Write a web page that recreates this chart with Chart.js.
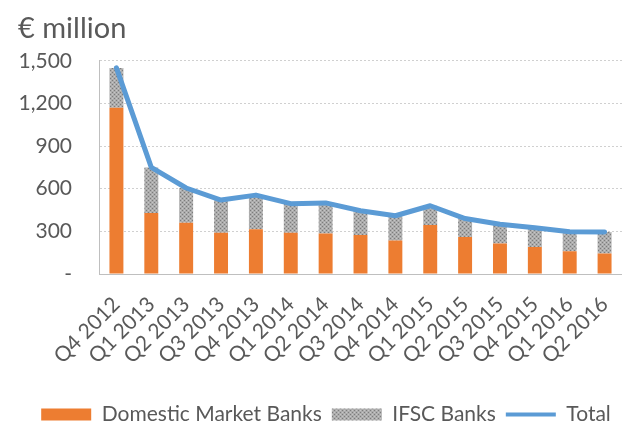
<!DOCTYPE html>
<html>
<head>
<meta charset="utf-8">
<script src="https://cdn.jsdelivr.net/npm/chart.js@4"></script>
<style>
  html, body { margin: 0; padding: 0; background: #fff; overflow: hidden; }
  #wrap { width: 622px; height: 423px; }
</style>
</head>
<body>
<div id="wrap"><canvas id="myChart"></canvas></div>
<script>
const quarters = ["Q4 2012", "Q1 2013", "Q2 2013", "Q3 2013", "Q4 2013", "Q1 2014", "Q2 2014", "Q3 2014",
  "Q4 2014", "Q1 2015", "Q2 2015", "Q3 2015", "Q4 2015", "Q1 2016", "Q2 2016"]
const domesticBanks = [1170, 430, 360, 290, 315, 290, 285, 275, 235, 345, 260, 215, 190, 160, 145]
const ifscBanks = [280, 320, 245, 230, 240, 205, 215, 170, 175, 135, 130, 135, 135, 137, 150]
const totalBanks = [1450, 750, 605, 520, 555, 495, 500, 445, 410, 480, 390, 350, 325, 297, 295]
const yTicks = [0, 300, 600, 900, 1200, 1500]

const textGrey = "#595959"
const fontName = "Lato"

// dotted grey fill like the excel texture
function dotPattern() {
  let c = document.createElement("canvas")
  c.width = 4
  c.height = 4
  let g = c.getContext("2d")
  g.fillStyle = "#acacac"
  g.fillRect(0, 0, 4, 4)
  g.fillStyle = "#7c7c7c"
  g.fillRect(0, 0, 1, 1)
  g.fillRect(2, 2, 1, 1)
  g.fillStyle = "#c6c6c6"
  g.fillRect(2, 0, 1, 1)
  g.fillRect(0, 2, 1, 1)
  return g.createPattern(c, "repeat")
}
const ifscFill = dotPattern()

let ctx = document.getElementById("myChart").getContext("2d")
new Chart(ctx, {
  type: "bar",
  data: {
    labels: quarters,
    datasets: [{
      label: "Domestic Market Banks",
      data: domesticBanks,
      backgroundColor: "#ed7d31",
      stack: "banks",
      order: 2,
      barPercentage: 0.4,
      categoryPercentage: 1
    }, {
      label: "IFSC Banks",
      data: ifscBanks,
      backgroundColor: ifscFill,
      stack: "banks",
      order: 2,
      barPercentage: 0.4,
      categoryPercentage: 1
    }, {
      type: "line",
      label: "Total",
      data: totalBanks,
      borderColor: "#5b9bd5",
      backgroundColor: "#5b9bd5",
      borderWidth: 5,
      pointRadius: 0,
      tension: 0,
      borderJoinStyle: "round",
      borderCapStyle: "round",
      stack: "line",
      order: 1
    }]
  },
  options: {
    responsive: true,
    maintainAspectRatio: false,
    animation: false,
    layout: { padding: { top: 7, left: 18, right: -12, bottom: -12 } },
    plugins: {
      title: {
        display: true,
        text: "€ million",
        align: "start",
        color: textGrey,
        font: { family: fontName, size: 29, weight: "normal" },
        padding: { top: 4, bottom: 15 }
      },
      legend: {
        position: "bottom",
        labels: {
          color: textGrey,
          font: { family: fontName, size: 21 },
          usePointStyle: true,
          pointStyleWidth: 50,
          boxHeight: 12,
          padding: 10,
          sort: (a, b) => a.datasetIndex - b.datasetIndex,
          generateLabels: function (chart) {
            let items = Chart.defaults.plugins.legend.labels.generateLabels(chart)
            items.forEach(function (it) {
              if (it.text === "Total") {
                it.pointStyle = "line"
                it.lineWidth = 4
              } else {
                it.pointStyle = "rect"
                it.lineWidth = 0
                it.strokeStyle = "rgba(0,0,0,0)"
              }
            })
            return items
          }
        }
      },
      tooltip: { enabled: false }
    },
    scales: {
      x: {
        stacked: true,
        afterFit: function (scale) {
          scale.height = 120
          scale.paddingRight = -12
        },
        grid: { display: false },
        border: { display: true, color: "#bfbfbf" },
        ticks: {
          color: textGrey,
          font: { family: fontName, size: 21 },
          autoSkip: false,
          minRotation: 45,
          maxRotation: 45,
          padding: 10
        }
      },
      y: {
        stacked: true,
        min: 0,
        max: 1500,
        afterBuildTicks: function (scale) {
          scale.ticks = yTicks.map(v => ({ value: v }))
        },
        afterFit: function (scale) {
          scale.width = 81
          scale.paddingRight = -12
        },
        grid: { color: "#d0d0d0", drawTicks: false },
        border: { display: true, color: "#bfbfbf", dash: [2, 2] },
        ticks: {
          color: textGrey,
          font: { family: fontName, size: 21 },
          padding: 27,
          callback: function (v) {
            return v === 0 ? "-" : v.toLocaleString("en-US")
          }
        }
      }
    }
  }
})
</script>
</body>
</html>
